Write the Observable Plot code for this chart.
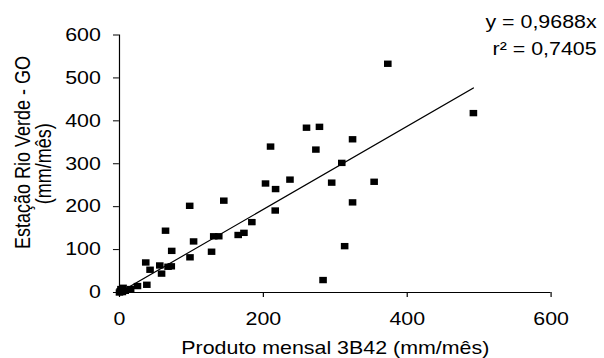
<!DOCTYPE html>
<html><head><meta charset="utf-8">
<script src="https://cdn.jsdelivr.net/npm/d3@7"></script>
<script src="https://cdn.jsdelivr.net/npm/@observablehq/plot@0.6"></script>
<style>html,body{margin:0;padding:0;background:#fff;overflow:hidden}</style>
</head><body><div id="chart"></div>
<script>
// Data (TRMM 3B42 monthly product vs. Rio Verde - GO station)
const produto3B42 = [0, 1, 2, 4, 5, 3, 8, 15.5, 25, 38, 36.5, 42.5, 56, 58.5, 67.5, 72, 72.6, 64, 98, 97.6,
  103, 128, 131, 138, 145, 165, 173, 184, 203, 210, 216.5, 217, 237, 260, 273, 278, 283, 295, 309, 313,
  324, 324, 354, 373, 492];
const estacao = [0, 3, 8, 1, 11, 5, 4, 8, 15, 18, 70, 53, 63, 44, 60, 61, 97, 144, 82, 202,
  119, 95, 131, 131, 214, 134, 139, 164, 254, 340, 191, 241, 263, 384, 333, 386, 29, 256, 302, 108,
  357, 210, 258, 533, 418];
const xTicks = [0, 200, 400, 600];
const yTicks = [0, 100, 200, 300, 400, 500, 600];
const slope = 0.9688;
const equationLines = ["y = 0,9688x", "r\u00b2 = 0,7405"];
const xTitle = "Produto mensal 3B42 (mm/mês)";
const yTitleLines = ["Estação Rio Verde - GO", "(mm/mês)"];

const points = produto3B42.map((x, i) => ({x, y: estacao[i]}));
const xMax = d3.max(produto3B42);
const fitLine = [{x: 0, y: 0}, {x: xMax, y: slope * xMax}];

const W = 508, H = 358, FINAL_W = 604;
const font = "'Liberation Sans', Arial, sans-serif";
const plot = Plot.plot({
  width: W, height: H,
  marginLeft: 100, marginRight: 45, marginTop: 34.5, marginBottom: 66,
  style: {fontFamily: font, fontSize: "18px", color: "#000", background: "#fff", overflow: "visible"},
  x: {domain: [0, 600]},
  y: {domain: [0, 600]},
  marks: [
    Plot.axisX({ticks: xTicks, tickSize: 5, tickPadding: 15, label: null, fontSize: 18, stroke: "#000"}),
    Plot.axisY({ticks: yTicks, tickSize: 5, tickPadding: 10.7, label: null, fontSize: 18, stroke: "#000"}),
    Plot.ruleX([0], {stroke: "#000", strokeWidth: 1}),
    Plot.ruleY([0], {stroke: "#000", strokeWidth: 1}),
    Plot.line(fitLine, {x: "x", y: "y", stroke: "#000", strokeWidth: 1.1}),
    Plot.dot(points, {x: "x", y: "y", symbol: "square", r: 3.6, fill: "#000", stroke: "none"}),
    Plot.text([xTitle], {text: d => d, frameAnchor: "bottom", lineAnchor: "top", dy: 49, fontSize: 18, fill: "#000"}),
    Plot.text([yTitleLines[0]], {text: d => d, frameAnchor: "left", textAnchor: "middle", lineAnchor: "middle", y: () => 326, dx: -81, rotate: -90, fontSize: 18, fill: "#000"}),
    Plot.text([yTitleLines[1]], {text: d => d, frameAnchor: "left", textAnchor: "middle", lineAnchor: "middle", y: () => 300, dx: -63, rotate: -90, fontSize: 18, fill: "#000"}),
    Plot.text([equationLines[0]], {text: d => d, frameAnchor: "top-right", textAnchor: "end", lineAnchor: "bottom", dx: 38.3, dy: -7.5, fontSize: 18, fill: "#000"}),
    Plot.text([equationLines[1]], {text: d => d, frameAnchor: "top-right", textAnchor: "end", lineAnchor: "bottom", dx: 38.3, dy: 19.5, fontSize: 18, fill: "#000"})
  ]
});
// The reference chart is horizontally stretched; reproduce by stretching the SVG viewBox
plot.setAttribute("width", FINAL_W);
plot.setAttribute("preserveAspectRatio", "none");
document.getElementById("chart").appendChild(plot);
</script>
</body></html>
